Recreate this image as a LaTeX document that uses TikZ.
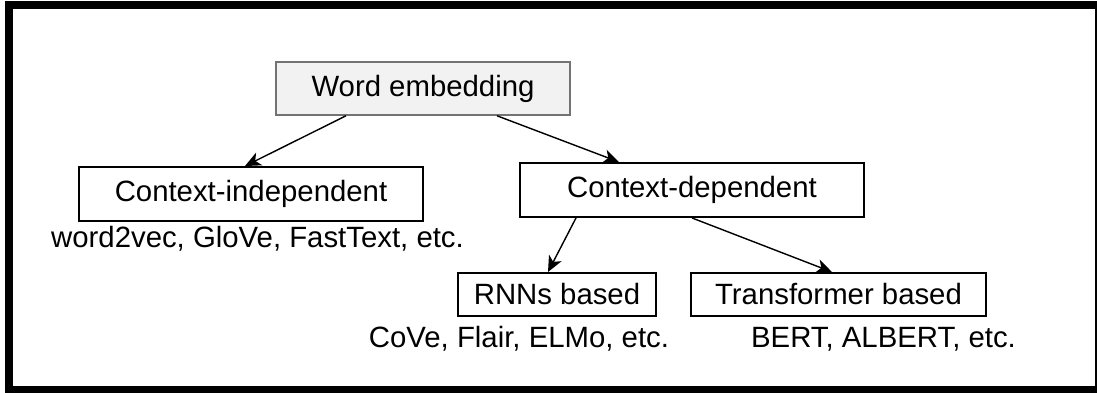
\documentclass[tikz,border=0pt]{standalone}
\usepackage{fontspec}
\setmainfont{Liberation Sans}
\usepackage{tikz}
\usetikzlibrary{arrows}
\usetikzlibrary{arrows.meta}
\usetikzlibrary{positioning}
\tikzset{box/.style = {draw, line width = 1.1pt, inner sep = 0, minimum height = 1.08cm, font = \fontsize{16.7}{20}\selectfont}}
\tikzset{rootbox/.style = {box, draw = gray!90!black, fill = gray!10, line width = 0.9pt, minimum height = 1.06cm}}
\tikzset{leafbox/.style = {box, minimum height = 0.86cm}}
\tikzset{note/.style = {inner sep = 0, font = \fontsize{16.7}{20}\selectfont}}
\tikzset{arr/.style = {-{Stealth[length = 9pt, width = 8pt, inset = 2.5pt]}, line width = 0.8pt}}

\begin{document}
\begin{tikzpicture}
      \useasboundingbox (0, 0) rectangle (21.94, 7.86);
      \draw [line width = 0.16cm] (0.18, 0.06) rectangle (21.98, 7.75);

      \node [rootbox, minimum width = 5.88cm] (we) at (8.46, 6.09) {Word embedding};

      \node [box, minimum width = 6.88cm] (ci) at (5.02, 3.98) {Context-independent};
      \node [note] (cinote) at (5.15, 3.08) {word2vec, GloVe, FastText, etc.};

      \node [box, minimum width = 6.88cm] (cd) at (13.84, 4.06) {Context-dependent};

      \node [leafbox, minimum width = 3.96cm] (rnn) at (11.14, 1.97) {RNNs based};
      \node [note] (rnnnote) at (10.38, 1.08) {CoVe, Flair, ELMo, etc.};

      \node [leafbox, minimum width = 5.9cm] (tb) at (16.77, 1.97) {Transformer based};
      \node [note] (tbnote) at (17.67, 1.08) {BERT, ALBERT, etc.};

      \draw [arr] ([xshift = -1.54cm] we.south) -- ([xshift = -0.12cm] ci.north);
      \draw [arr] ([xshift = 1.48cm] we.south) -- ([xshift = -1.46cm] cd.north);
      \draw [arr] ([xshift = -2.32cm] cd.south) -- ([xshift = -0.18cm] rnn.north);
      \draw [arr] (cd.south) -- ([xshift = -0.13cm] tb.north);
    \end{tikzpicture}
\end{document}
